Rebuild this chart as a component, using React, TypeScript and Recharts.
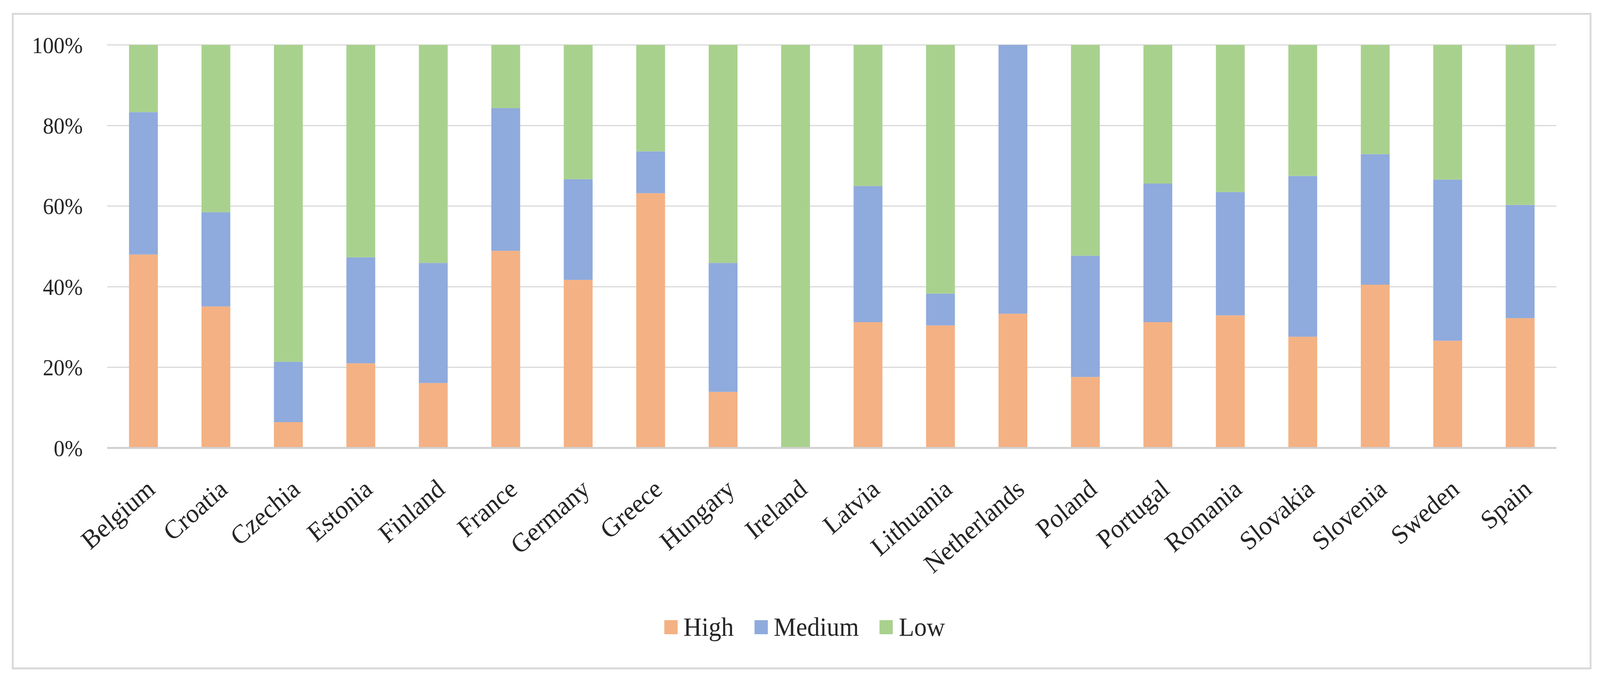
import React from 'react';
import { BarChart, Bar, XAxis, YAxis, CartesianGrid, Legend } from 'recharts';

// shares per country, in percent
const countries = [
  'Belgium', 'Croatia', 'Czechia', 'Estonia', 'Finland', 'France', 'Germany', 'Greece', 'Hungary', 'Ireland',
  'Latvia', 'Lithuania', 'Netherlands', 'Poland', 'Portugal', 'Romania', 'Slovakia', 'Slovenia', 'Sweden', 'Spain',
];
const high = [48.0, 35.1, 6.4, 21.0, 16.1, 48.9, 41.7, 63.2, 13.9, 0, 31.2, 30.4, 33.3, 17.6, 31.2, 32.9, 27.6, 40.5, 26.6, 32.2];
const medium = [35.3, 23.4, 15.0, 26.3, 29.8, 35.4, 25.0, 10.4, 32.0, 0, 33.8, 7.9, 66.7, 30.1, 34.4, 30.6, 39.9, 32.4, 40.0, 28.1];
const low = [16.7, 41.5, 78.6, 52.7, 54.1, 15.7, 33.3, 26.4, 54.1, 100, 35.0, 61.7, 0, 52.3, 34.4, 36.5, 32.5, 27.1, 33.4, 39.7];
const yTicks = [0, 20, 40, 60, 80, 100];
const seriesOrder = ['High', 'Medium', 'Low'];

const W = 4328;
const H = 1754;
const FONT = '"Palatino Linotype", "Book Antiqua", Palatino, "Liberation Serif", serif';
const TEXT = '#262626';
const COLORS: Record<string, string> = { High: '#F4B183', Medium: '#8FAADC', Low: '#A9D18E' };

const data = countries.map((c, i) => ({ country: c, High: high[i], Medium: medium[i], Low: low[i] }));

function XTick({ x, y, payload }: any) {
  const ax = x + 20;
  const ay = y + 86;
  return (
    <text
      x={ax} y={ay} dy="0.35em" textAnchor="end"
      transform={`rotate(-40, ${ax}, ${ay})`}
      fontFamily={FONT} fontSize={68} fill={TEXT}
    >
      {payload.value}
    </text>
  );
}

function YTick({ y, payload }: any) {
  return (
    <text x={224} y={y} dy="0.35em" textAnchor="end" fontFamily={FONT} fontSize={59} fill={TEXT}>
      {payload.value}%
    </text>
  );
}

function LegendBox({ payload }: any) {
  const items = [...(payload || [])].sort((a: any, b: any) => seriesOrder.indexOf(a.value) - seriesOrder.indexOf(b.value));
  return (
    <div style={{ display: 'flex', justifyContent: 'center', alignItems: 'center', fontFamily: FONT, fontSize: 68, color: TEXT }}>
      {items.map((p: any, i: number) => (
        <div key={p.value} style={{ display: 'flex', alignItems: 'center', marginLeft: i === 0 ? 0 : 56 }}>
          <span style={{ display: 'inline-block', width: 36, height: 36, background: p.color, marginRight: 16 }} />
          <span>{p.value}</span>
        </div>
      ))}
    </div>
  );
}

export default function App() {
  // the browser window may be narrower than the figure; squeeze horizontally to fit
  const vw = typeof window !== 'undefined' ? window.innerWidth : W;
  const sx = Math.min(1, vw / W);
  return (
    <div style={{ position: 'absolute', left: 0, top: 0, width: W, height: H, background: '#fff',
      transform: `scale(${sx}, 1)`, transformOrigin: '0 0' }}>
      <div style={{
        position: 'absolute', left: 32, top: 33, width: 4273, height: 1681,
        border: '5px solid #D9D9D9', boxSizing: 'border-box', pointerEvents: 'none',
      }} />
      <BarChart
        width={W} height={H} data={data}
        margin={{ top: 115, right: 118, left: 0, bottom: 0 }}
      >
        <CartesianGrid vertical={false} stroke="#D9D9D9" strokeWidth={3} />
        <XAxis
          dataKey="country" interval={0} height={607}
          tickLine={false} axisLine={{ stroke: '#D0D0D0', strokeWidth: 5 }}
          tick={<XTick />}
        />
        <YAxis
          width={290} domain={[0, 100]} ticks={yTicks}
          tickLine={false} axisLine={false} tick={<YTick />}
        />
        <Legend
          verticalAlign="middle" align="center"
          wrapperStyle={{ top: 1566, left: 40, width: 4273 }}
          content={<LegendBox />}
        />
        {seriesOrder.map((k) => (
          <Bar key={k} dataKey={k} stackId="a" fill={COLORS[k]} barSize={78} isAnimationActive={false} />
        ))}
      </BarChart>
    </div>
  );
}
